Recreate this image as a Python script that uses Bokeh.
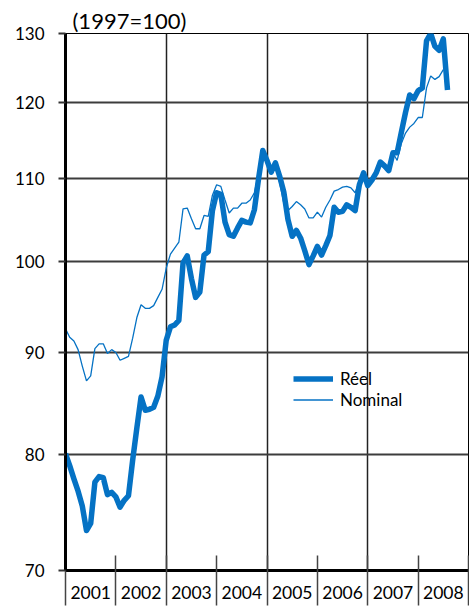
from bokeh.plotting import figure
from bokeh.models import Range1d, FixedTicker, PrintfTickFormatter, Legend, LegendItem
from bokeh.embed import file_html
from bokeh.resources import INLINE

# Monthly index values, January 2001 onwards (1997=100)
reel = [80.1, 79.0, 77.8, 76.7, 75.4, 73.3, 73.9, 77.5, 78.0, 77.9, 76.4, 76.6,
        76.2, 75.3, 75.9, 76.3, 79.5, 82.5, 85.5, 84.2, 84.3, 84.5, 85.6, 87.5,
        91.3, 92.7, 92.9, 93.4, 99.8, 100.6, 98.0, 95.9, 96.5, 100.7, 101.1, 106.0,
        108.2, 108.0, 104.6, 103.1, 102.9, 103.9, 104.8, 104.6, 104.5, 106.1, 110.0, 113.6,
        112.3, 110.8, 112.0, 110.3, 108.3, 104.9, 102.9, 103.6, 102.7, 101.2, 99.6, 100.6,
        101.7, 100.7, 101.8, 103.0, 106.4, 105.8, 105.9, 106.7, 106.4, 106.0, 109.2, 110.7,
        109.1, 109.8, 110.7, 112.1, 111.6, 111.0, 113.3, 113.3, 116.0, 118.7, 121.1, 120.6,
        121.7, 122.1, 128.9, 130.0, 128.1, 127.5, 129.2, 121.8]
nominal = [92.5, 91.6, 91.2, 90.3, 88.6, 87.1, 87.6, 90.4, 90.9, 90.9, 89.9, 90.3,
           90.0, 89.2, 89.4, 89.6, 91.5, 93.7, 95.1, 94.7, 94.7, 95.0, 95.9, 96.8,
           99.2, 100.8, 101.5, 102.2, 106.2, 106.3, 105.0, 103.8, 103.8, 105.4, 105.3, 107.9,
           109.2, 109.0, 107.3, 105.7, 106.3, 106.3, 106.9, 106.9, 107.3, 108.2, 110.7, 113.6,
           112.0, 111.0, 111.7, 109.5, 106.9, 106.0, 106.5, 107.1, 106.7, 106.2, 105.1, 105.1,
           105.8, 105.2, 106.4, 107.3, 108.4, 108.6, 108.9, 109.0, 108.8, 108.2, 109.7, 110.6,
           109.1, 109.6, 110.5, 111.9, 111.3, 111.2, 113.3, 112.3, 114.5, 115.9, 116.7, 117.2,
           118.0, 118.0, 122.1, 123.8, 123.3, 123.7, 124.7]
start_year = 2001
years = ["2001", "2002", "2003", "2004", "2005", "2006", "2007", "2008"]
y_ticks = [70, 80, 90, 100, 110, 120, 130]
series_names = ["Réel", "Nominal"]

x_reel = [start_year + i / 12 for i in range(len(reel))]
x_nom = [start_year + i / 12 for i in range(len(nominal))]

FONT = "Lato"
BLUE = "#0572c4"

p = figure(width=469, height=606, output_backend="svg", toolbar_location=None,
           y_axis_type="log",
           x_range=Range1d(start_year, start_year + len(years)),
           y_range=Range1d(y_ticks[0], y_ticks[-1]),
           min_border_left=65, min_border_right=1, min_border_top=33, min_border_bottom=36)

p.outline_line_color = "black"
p.outline_line_width = 1
p.background_fill_color = "white"
p.border_fill_color = "white"

# title
p.title.text = "(1997=100)"
p.title.align = "left"
p.title.offset = 7
p.title.text_font = FONT
p.title.text_font_size = "22px"
p.title.text_font_style = "normal"
p.title.text_color = "black"
p.title.standoff = 0

# y axis
p.yaxis.ticker = FixedTicker(ticks=y_ticks)
p.yaxis.formatter = PrintfTickFormatter(format="%d")
p.yaxis.axis_line_width = 3
p.yaxis.axis_line_color = "black"
p.yaxis.major_tick_out = 7
p.yaxis.major_tick_in = 0
p.yaxis.major_tick_line_width = 2
p.yaxis.major_tick_line_color = "#333333"
p.yaxis.minor_tick_line_color = None
p.yaxis.major_label_standoff = 14
p.yaxis.major_label_text_font = FONT
p.yaxis.major_label_text_font_size = "17px"
p.yaxis.major_label_text_color = "black"

# x axis: labels between year separators
label_pos = [start_year + k + 0.5 for k in range(len(years))]
sep_pos = [start_year + k for k in range(len(years) + 1)]
p.xaxis.ticker = FixedTicker(ticks=label_pos, minor_ticks=sep_pos)
p.xaxis.major_label_overrides = {pos: lab for pos, lab in zip(label_pos, years)}
p.xaxis.major_tick_in = 0
p.xaxis.major_tick_out = 0
p.xaxis.minor_tick_in = 15
p.xaxis.minor_tick_out = 35
p.xaxis.minor_tick_line_color = "#444444"
p.xaxis.minor_tick_line_width = 1.5
p.xaxis.axis_line_width = 3
p.xaxis.axis_line_color = "black"
p.xaxis.major_label_standoff = -20
p.xaxis.major_label_text_font = FONT
p.xaxis.major_label_text_font_size = "17.5px"
p.xaxis.major_label_text_color = "black"

# grids
p.xgrid.ticker = FixedTicker(ticks=[2003, 2005, 2007])
p.xgrid.grid_line_color = "#222222"
p.xgrid.grid_line_width = 1.5
p.ygrid.ticker = FixedTicker(ticks=y_ticks[1:])
p.ygrid.grid_line_color = "#3c3c3c"
p.ygrid.grid_line_width = 2

r_nom = p.line(x_nom, nominal, line_color=BLUE, line_width=1.3)
r_reel = p.line(x_reel, reel, line_color=BLUE, line_width=5.5, line_join="round")

legend = Legend(items=[LegendItem(label=series_names[0], renderers=[r_reel]),
                       LegendItem(label=series_names[1], renderers=[r_nom])],
                location=(228, 160), orientation="vertical",
                background_fill_alpha=0, border_line_color=None,
                padding=0, margin=0, spacing=0,
                glyph_width=40, glyph_height=21, label_height=21,
                label_standoff=7,
                label_text_font=FONT, label_text_font_size="17px",
                label_text_color="black")
p.add_layout(legend)

open("out.html", "w").write(file_html(p, INLINE))
